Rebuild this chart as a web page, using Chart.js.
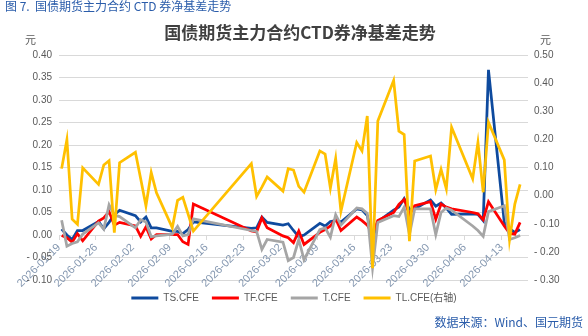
<!DOCTYPE html>
<html>
<head>
<meta charset="utf-8">
<script src="https://cdn.jsdelivr.net/npm/chart.js@4.4.1/dist/chart.umd.min.js"></script>
<style>
html, body { margin: 0; padding: 0; background: #fff; }
#wrap { position: relative; width: 588px; height: 336px; overflow: hidden; }
#chart { position: absolute; left: 0; top: 0; }
.txt { position: absolute; white-space: nowrap; font-family: "Noto Sans CJK SC", sans-serif; line-height: 1; }
</style>
</head>
<body>
<div id="wrap">
  <canvas id="chart" width="588" height="336"></canvas>
  <div class="txt" style="left:5px;top:0px;font-size:12px;color:#2a5caa;">图 7.&nbsp; 国债期货主力合约 CTD 券净基差走势</div>
  <div class="txt" style="left:0;width:600px;text-align:center;top:23px;font-size:17px;font-weight:bold;color:#404040;">国债期货主力合约CTD券净基差走势</div>
  <div class="txt" style="left:25px;top:34px;font-size:11px;color:#595959;">元</div>
  <div class="txt" style="left:540px;top:34px;font-size:11px;color:#595959;">元</div>
  <div class="txt" style="right:5px;top:316px;font-size:12px;color:#2a5caa;">数据来源：Wind、国元期货</div>
</div>
<script>
// trading days shown in the chart
const dates = [
    '2026-01-19', '2026-01-20', '2026-01-21', '2026-01-22', '2026-01-23',
    '2026-01-26', '2026-01-27', '2026-01-28', '2026-01-29', '2026-01-30',
    '2026-02-02', '2026-02-03', '2026-02-04', '2026-02-05', '2026-02-06',
    '2026-02-09', '2026-02-10', '2026-02-11', '2026-02-12', '2026-02-13',
    '2026-02-24', '2026-02-25', '2026-02-26', '2026-02-27',
    '2026-03-02', '2026-03-03', '2026-03-04', '2026-03-05', '2026-03-06',
    '2026-03-09', '2026-03-10', '2026-03-11', '2026-03-12', '2026-03-13',
    '2026-03-16', '2026-03-17', '2026-03-18', '2026-03-19', '2026-03-20',
    '2026-03-23', '2026-03-24', '2026-03-25', '2026-03-26', '2026-03-27',
    '2026-03-30', '2026-03-31', '2026-04-01', '2026-04-02', '2026-04-03',
    '2026-04-07', '2026-04-08', '2026-04-09', '2026-04-10',
    '2026-04-13', '2026-04-14', '2026-04-15', '2026-04-16'
];

const tsCFE = [
    0.013, 0.000, -0.010, 0.010, 0.010,
    0.030, 0.014, 0.028, 0.045, 0.055,
    0.043, 0.029, 0.040, 0.016, 0.016,
    0.008, 0.008, 0.003, 0.012, 0.029,
    0.015, 0.016, 0.040, 0.028,
    0.022, 0.025, 0.010, -0.004, 0.000,
    0.026, 0.020, 0.030, 0.032, 0.029,
    0.058, 0.056, 0.043, -0.010, 0.030,
    0.055, 0.062, 0.081, 0.057, 0.058,
    0.078, 0.064, 0.071, 0.060, 0.046,
    0.047, 0.046, 0.032, 0.367,
    0.028, 0.014, 0.006, 0.012
];

const tfCFE = [
    -0.001, -0.006, -0.016, 0.003, -0.013,
    0.031, 0.038, 0.052, 0.022, 0.028,
    0.020, -0.003, 0.018, -0.009, 0.001,
    0.001, 0.001, -0.015, -0.021, 0.069,
    0.009, 0.007, 0.038, 0.016,
    -0.002, -0.006, -0.017, 0.009, -0.021,
    0.006, 0.012, 0.020, 0.036, 0.010,
    0.040, 0.032, 0.022, 0.002, 0.032,
    0.050, 0.068, 0.079, 0.045, 0.065,
    0.074, 0.035, 0.069, 0.062, 0.058,
    0.050, 0.047, 0.034, 0.074,
    0.020, 0.004, 0.002, 0.028
];

const tCFE = [
    0.033, -0.025, -0.019, -0.015, 0.002,
    0.027, 0.013, 0.067, 0.044, 0.041,
    0.016, 0.034, 0.029, -0.004, -0.002,
    0.002, 0.019, -0.002, 0.001, 0.036,
    0.010, 0.008, -0.032, -0.010,
    -0.016, -0.057, -0.050, -0.010, -0.055,
    0.012, 0.016, -0.005, 0.045, 0.022,
    0.060, 0.058, 0.048, -0.073, 0.028,
    0.043, 0.041, 0.062, 0.001, 0.058,
    0.058, 0.001, 0.050, 0.060, 0.055,
    0.020, 0.010, -0.003, 0.052,
    0.065, -0.010, -0.006, -0.001
];

// right axis
const tlCFE = [
    0.096, 0.199, -0.084, -0.102, 0.099,
    0.040, 0.109, 0.124, -0.132, 0.117,
    0.154, 0.060, -0.036, 0.082, 0.010,
    -0.114, -0.017, -0.006, -0.066, -0.126,
    0.114, -0.003, 0.030, 0.066,
    0.016, 0.096, 0.091, 0.033, 0.012,
    0.159, 0.148, 0.027, 0.132, -0.056,
    0.189, 0.159, 0.283, -0.258, 0.265,
    0.409, 0.229, 0.217, -0.162, 0.123,
    0.141, 0.021, 0.093, 0.024, 0.243,
    0.060, 0.189, 0.012, 0.261,
    0.127, -0.156, -0.030, 0.040
];

const xTickDates = [
    '2026-01-19', '2026-01-26', '2026-02-02', '2026-02-09', '2026-02-16', '2026-02-23', '2026-03-02',
    '2026-03-09', '2026-03-16', '2026-03-23', '2026-03-30', '2026-04-06', '2026-04-13'
];
const xEndDate = '2026-04-18';

const seriesNames = ['TS.CFE', 'TF.CFE', 'T.CFE', 'TL.CFE(右轴)'];
const seriesColors = ['#0e4a9e', '#ff0000', '#a5a5a5', '#ffc000'];

const dayMs = 86400000;
const base = Date.parse(dates[0] + 'T00:00:00Z');
const dayOf = s => Math.round((Date.parse(s + 'T00:00:00Z') - base) / dayMs);
// date axis: each day is one slot, point sits in the middle of it
const toPoints = arr => arr.map((v, i) => ({ x: dayOf(dates[i]) + 0.5, y: v }));
const tickLabelByDay = {};
xTickDates.forEach(s => { tickLabelByDay[dayOf(s)] = s; });

const numFont = { family: '"Liberation Sans", Arial, sans-serif', size: 10 };
// excel style: "- 0.05"
const fmt = v => (v < -1e-9 ? '- ' : '') + Math.abs(v).toFixed(2);

function makeSet(i, data, axis, order) {
    return {
        label: seriesNames[i],
        data: toPoints(data),
        borderColor: seriesColors[i],
        backgroundColor: seriesColors[i],
        borderWidth: 2.75,
        pointRadius: 0,
        pointHoverRadius: 0,
        tension: 0,
        yAxisID: axis,
        order: order
    };
}

new Chart(document.getElementById('chart'), {
    type: 'line',
    data: {
        datasets: [
            makeSet(0, tsCFE, 'y', 3),
            makeSet(1, tfCFE, 'y', 2),
            makeSet(2, tCFE, 'y', 1),
            makeSet(3, tlCFE, 'y1', 0)
        ]
    },
    options: {
        responsive: false,
        animation: false,
        devicePixelRatio: 1,
        layout: { padding: { top: 55, bottom: 23, left: 0, right: 0 } },
        plugins: {
            legend: {
                position: 'bottom',
                labels: {
                    boxWidth: 27,
                    boxHeight: 3,
                    padding: 13,
                    color: '#595959',
                    font: { family: '"Liberation Sans", Arial, "Noto Sans CJK SC", sans-serif', size: 10 },
                    sort: (a, b) => a.datasetIndex - b.datasetIndex,
                    generateLabels: (chart) => {
                        const items = Chart.defaults.plugins.legend.labels.generateLabels(chart);
                        items.forEach(it => { it.lineWidth = 0; it.fillStyle = seriesColors[it.datasetIndex]; });
                        return items;
                    }
                }
            },
            title: { display: false },
            tooltip: { enabled: false }
        },
        scales: {
            x: {
                type: 'linear',
                position: { y: 0 },
                min: 0,
                max: dayOf(xEndDate),
                afterBuildTicks: (scale) => {
                    scale.ticks = xTickDates.map(s => ({ value: dayOf(s) }));
                },
                ticks: {
                    autoSkip: false,
                    minRotation: 45,
                    maxRotation: 45,
                    padding: 2,
                    color: '#8497b0',
                    font: { family: '"Liberation Sans", Arial, sans-serif', size: 11 },
                    callback: (v) => tickLabelByDay[v] || ''
                },
                grid: { drawOnChartArea: false, drawTicks: true, tickLength: 4, color: '#d9d9d9' },
                border: { display: true, color: '#d9d9d9' }
            },
            y: {
                position: 'left',
                min: -0.10,
                max: 0.40,
                afterFit: (scale) => { scale.width = 59; },
                ticks: {
                    stepSize: 0.05,
                    padding: 7,
                    color: '#595959',
                    font: numFont,
                    callback: fmt
                },
                grid: { color: '#d9d9d9', lineWidth: 1, drawTicks: false },
                border: { display: false }
            },
            y1: {
                position: 'right',
                min: -0.30,
                max: 0.50,
                afterFit: (scale) => { scale.width = 60; },
                ticks: {
                    stepSize: 0.1,
                    padding: 6,
                    color: '#595959',
                    font: numFont,
                    callback: fmt
                },
                grid: { display: false, drawTicks: false },
                border: { display: false }
            }
        }
    }
});
</script>
</body>
</html>
